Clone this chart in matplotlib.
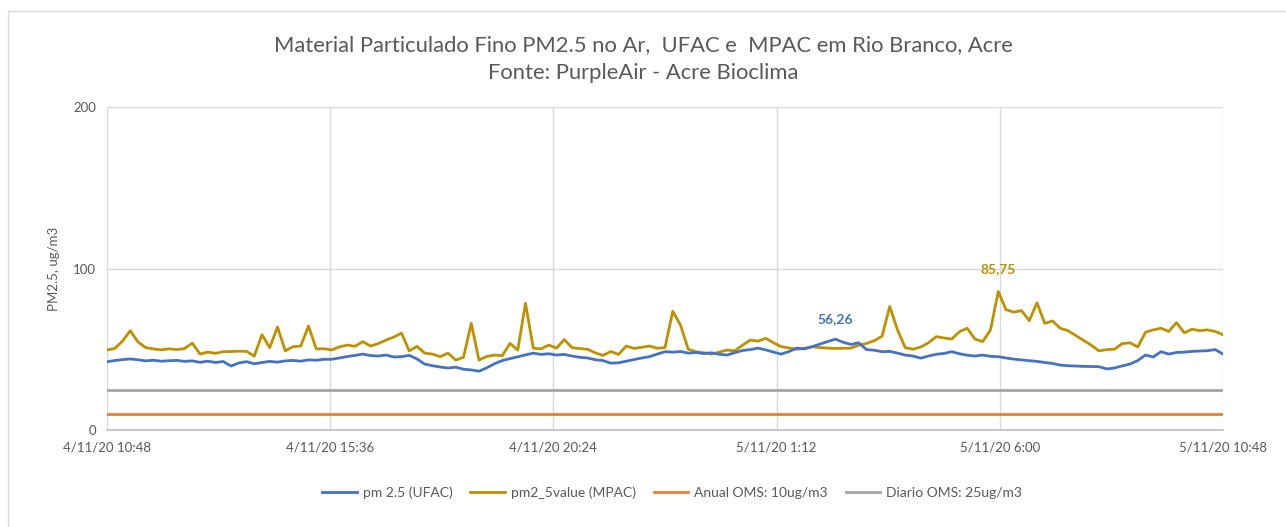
import numpy as np
import pandas as pd
import matplotlib
matplotlib.use('Agg')
import matplotlib.pyplot as plt
from matplotlib.patches import Rectangle

plt.rcParams['font.family'] = ['Lato', 'DejaVu Sans']

# 10-minute readings, 4/11/20 10:48 -> 5/11/20 10:48
times = pd.date_range('2020-11-04 10:48', periods=145, freq='10min')

ufac = [
    42.3, 43.0, 43.6, 44.0, 43.5, 42.8, 43.2, 42.6, 42.9, 43.1,
    42.5, 42.8, 41.9, 42.6, 41.8, 42.4, 39.6, 41.5, 42.3, 41.0,
    41.8, 42.5, 42.0, 42.8, 43.1, 42.6, 43.4, 43.2, 43.8, 43.8,
    44.6, 45.5, 46.2, 47.0, 46.1, 45.8, 46.4, 45.2, 45.4, 46.2,
    44.0, 40.8, 39.8, 39.0, 38.4, 38.9, 37.6, 37.2, 36.4, 38.5,
    41.0, 43.0, 44.2, 45.3, 46.5, 47.6, 46.8, 47.2, 46.4, 46.8,
    45.8, 45.0, 44.6, 43.5, 43.0, 41.4, 41.6, 42.6, 43.6, 44.6,
    45.4, 47.0, 48.5, 48.2, 48.6, 47.6, 48.0, 47.4, 47.8, 46.9,
    46.4, 47.9, 49.2, 49.8, 50.7, 49.6, 48.2, 47.0, 48.6, 50.7,
    50.2, 51.6, 53.2, 54.8, 56.26, 54.3, 53.0, 54.0, 49.8, 49.4,
    48.5, 48.7, 47.6, 46.4, 45.8, 44.5, 45.8, 46.9, 47.4, 48.5,
    47.2, 46.3, 45.8, 46.4, 45.6, 45.4, 44.6, 43.9, 43.4, 42.9,
    42.5, 41.8, 41.2, 40.2, 39.8, 39.6, 39.4, 39.3, 39.2, 37.8,
    38.4, 39.7, 40.8, 43.0, 46.4, 45.2, 48.5, 47.0, 48.0, 48.2,
    48.7, 48.9, 49.1, 49.8, 47.0,
]

mpac = [
    49.5, 50.5, 55.0, 61.5, 54.5, 51.0, 50.2, 49.6, 50.3, 49.8,
    50.4, 53.8, 47.0, 48.2, 47.5, 48.5, 48.6, 48.8, 48.7, 45.8,
    59.0, 51.0, 63.8, 49.0, 51.6, 52.0, 64.4, 50.2, 50.3, 49.6,
    51.5, 52.6, 51.8, 54.7, 52.0, 53.5, 55.7, 57.5, 60.0, 49.0,
    51.8, 47.6, 47.0, 45.4, 47.6, 43.3, 45.0, 66.0, 43.3, 45.5,
    46.4, 46.0, 53.6, 49.5, 78.5, 50.7, 50.2, 52.6, 50.7, 56.0,
    51.0, 50.4, 50.0, 47.8, 46.2, 48.6, 46.8, 52.0, 50.5, 51.2,
    52.0, 50.6, 51.0, 73.5, 65.0, 50.0, 48.5, 47.8, 47.0, 48.2,
    49.5, 49.0, 52.5, 55.7, 55.0, 56.8, 54.0, 51.6, 50.8, 50.0,
    50.6, 51.6, 51.0, 50.7, 50.5, 50.6, 50.7, 52.5, 53.6, 55.3,
    58.0, 76.5, 62.0, 51.0, 50.0, 51.4, 54.0, 57.8, 57.0, 56.3,
    60.9, 63.0, 56.3, 54.7, 62.0, 85.75, 74.5, 73.0, 73.9, 67.7,
    78.8, 66.0, 67.5, 63.0, 61.5, 58.5, 55.5, 52.5, 49.0, 49.8,
    50.0, 53.5, 54.0, 51.4, 60.5, 62.0, 63.0, 61.0, 66.5, 60.2,
    62.4, 61.5, 62.0, 61.0, 59.0,
]

anual_oms = 10
diario_oms = 25

tick_times = pd.date_range('2020-11-04 10:48', periods=6, freq='288min')
tick_labels = ['4/11/20 10:48', '4/11/20 15:36', '4/11/20 20:24',
               '5/11/20 1:12', '5/11/20 6:00', '5/11/20 10:48']

blue = '#4472C4'
gold = '#BF9000'
orange = '#ED7D31'
grey = '#A5A5A5'
txt = '#595959'

fig = plt.figure(figsize=(12.86, 5.27), dpi=100)
fig.patches.append(Rectangle((8 / 1286, -0.1), 1.2, 1 - 11 / 527 + 0.1,
                             transform=fig.transFigure, fill=False,
                             edgecolor='#D9D9D9', linewidth=1))
ax = fig.add_axes([107 / 1286, 1 - 430 / 527, (1223 - 107) / 1286, (430 - 107) / 527])

ax.plot(times, ufac, color=blue, lw=2, label='pm 2.5 (UFAC)', zorder=4)
ax.plot(times, mpac, color=gold, lw=2, label='pm2_5value (MPAC)', zorder=3)
ax.plot(times, [anual_oms] * len(times), color=orange, lw=2, label='Anual OMS: 10ug/m3')
ax.plot(times, [diario_oms] * len(times), color=grey, lw=2, label='Diario OMS: 25ug/m3')

ax.set_xlim(times[0], times[-1])
ax.set_ylim(0, 200)
ax.set_yticks([0, 100, 200])
ax.set_xticks(tick_times)
ax.set_xticklabels(tick_labels)
ax.tick_params(length=0, labelsize=9.5, colors=txt, pad=8)
ax.grid(True, color='#D9D9D9', lw=1)
for s in ['top', 'right', 'left']:
    ax.spines[s].set_visible(False)
ax.spines['bottom'].set_color('#BFBFBF')
ax.spines['bottom'].set_linewidth(1.2)
ax.set_ylabel('PM2.5, ug/m3', color=txt, fontsize=9.5, labelpad=9)

i_u = int(np.argmax(ufac))
i_m = int(np.argmax(mpac))
ax.annotate(f'{ufac[i_u]:.2f}'.replace('.', ','), (times[i_u], ufac[i_u]),
            xytext=(0, 10), textcoords='offset points', ha='center', va='bottom',
            color=blue, fontsize=10, fontweight='bold')
ax.annotate(f'{mpac[i_m]:.2f}'.replace('.', ','), (times[i_m], mpac[i_m]),
            xytext=(0, 12), textcoords='offset points', ha='center', va='bottom',
            color=gold, fontsize=10, fontweight='bold')

fig.text(0.5, 1 - 45 / 527, 'Material Particulado Fino PM2.5 no Ar,  UFAC e  MPAC em Rio Branco, Acre',
         ha='center', va='center', fontsize=15.8, color=txt)
fig.text(0.5, 1 - 73 / 527, 'Fonte: PurpleAir - Acre Bioclima',
         ha='center', va='center', fontsize=15.8, color=txt)

fig.legend(loc='center', bbox_to_anchor=(672 / 1286, 1 - 493 / 527), ncol=4,
           frameon=False, fontsize=10, handlelength=2.5, handletextpad=0.4,
           columnspacing=1.3, labelcolor=txt)

fig.savefig('out.png', dpi=100)
